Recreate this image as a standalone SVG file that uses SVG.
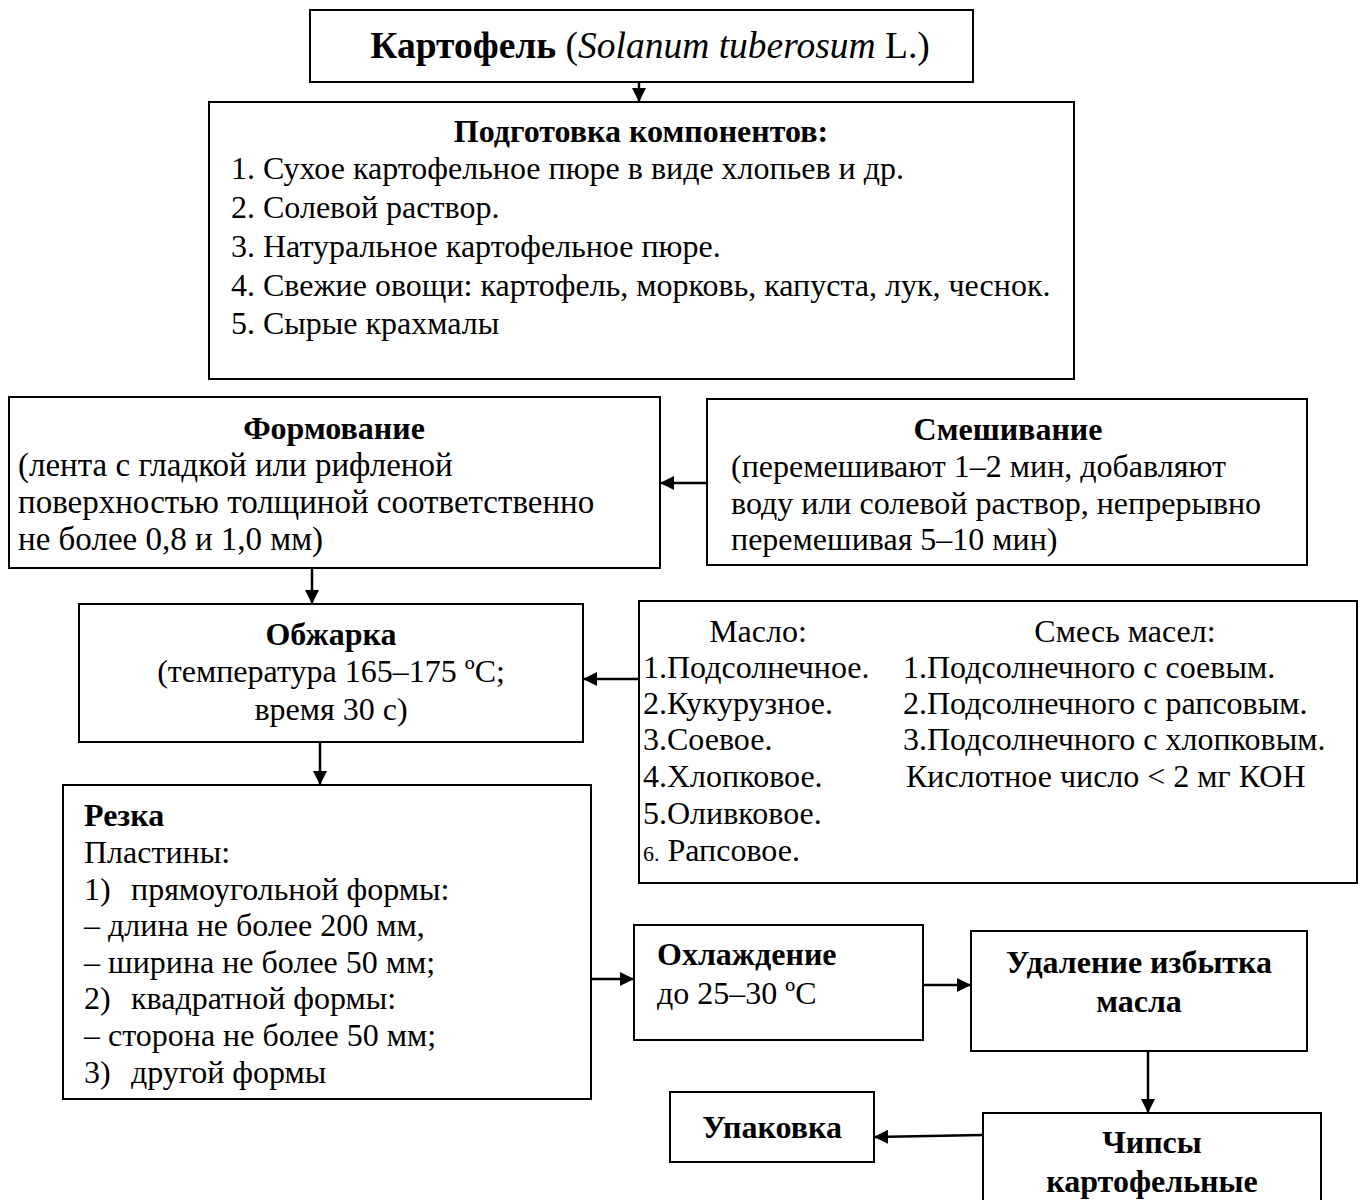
<svg xmlns="http://www.w3.org/2000/svg" width="1360" height="1200" viewBox="0 0 1360 1200">
<defs>
<marker id="ah" viewBox="0 0 14 14" refX="14" refY="7" markerWidth="14" markerHeight="14" markerUnits="userSpaceOnUse" orient="auto">
<path d="M0,0 L14,7 L0,14 Z" fill="#000"/>
</marker>
</defs>
<style>
rect{fill:#fff;stroke:#000;stroke-width:2}
text{font-family:"Liberation Serif","Times New Roman",serif;font-size:32px;fill:#000}
.b{font-weight:bold}
.c{text-anchor:middle}
.i{font-style:italic}
.f{font-size:33px}
#connectors line{stroke:#000;stroke-width:2.5;marker-end:url(#ah)}
</style>
<rect x="0" y="0" width="1360" height="1200" style="fill:#fff;stroke:none"/>
<g id="n-title">
<rect x="310" y="10" width="663" height="72"/>
<text x="650" y="58" class="c" style="font-size:37.5px"><tspan class="b">Картофель</tspan> (<tspan class="i">Solanum tuberosum</tspan> L.)</text>
</g>
<g id="n-prep">
<rect x="209" y="102" width="865" height="277"/>
<text x="641" y="142" class="c b">Подготовка компонентов:</text>
<text x="231" y="179">1. Сухое картофельное пюре в виде хлопьев и др.</text>
<text x="231" y="218">2. Солевой раствор.</text>
<text x="231" y="257">3. Натуральное картофельное пюре.</text>
<text x="231" y="296">4. Свежие овощи: картофель, морковь, капуста, лук, чеснок.</text>
<text x="231" y="334">5. Сырые крахмалы</text>
</g>
<g id="n-form">
<rect x="9" y="397" width="651" height="171"/>
<text x="334" y="439" class="c b">Формование</text>
<text x="18" y="476" class="f">(лента с гладкой или рифленой</text>
<text x="18" y="513" class="f">поверхностью толщиной соответственно</text>
<text x="18" y="550" class="f">не более 0,8 и 1,0 мм)</text>
</g>
<g id="n-mix">
<rect x="707" y="399" width="600" height="166"/>
<text x="1008" y="440" class="c b">Смешивание</text>
<text x="731" y="477">(перемешивают 1–2 мин, добавляют</text>
<text x="731" y="514">воду или солевой раствор, непрерывно</text>
<text x="731" y="550">перемешивая 5–10 мин)</text>
</g>
<g id="n-fry">
<rect x="79" y="604" width="504" height="138"/>
<text x="331" y="645" class="c b">Обжарка</text>
<text x="331" y="682" class="c">(температура 165–175 ºC;</text>
<text x="331" y="720" class="c">время 30 с)</text>
</g>
<g id="n-oil">
<rect x="639" y="601" width="718" height="282"/>
<text x="758" y="642" class="c">Масло:</text>
<text x="1125" y="642" class="c">Смесь масел:</text>
<text x="643" y="678">1.Подсолнечное.</text>
<text x="643" y="714">2.Кукурузное.</text>
<text x="643" y="750">3.Соевое.</text>
<text x="643" y="787">4.Хлопковое.</text>
<text x="643" y="824">5.Оливковое.</text>
<text x="643" y="861"><tspan style="font-size:22px">6.</tspan> Рапсовое.</text>
<text x="903" y="678">1.Подсолнечного с соевым.</text>
<text x="903" y="714">2.Подсолнечного с рапсовым.</text>
<text x="903" y="750">3.Подсолнечного с хлопковым.</text>
<text x="906" y="787">Кислотное число &lt; 2 мг КОН</text>
</g>
<g id="n-cut">
<rect x="63" y="785" width="528" height="314"/>
<text x="84" y="826" class="b">Резка</text>
<text x="84" y="863">Пластины:</text>
<text x="84" y="900">1)<tspan x="131">прямоугольной формы:</tspan></text>
<text x="84" y="936">– длина не более 200 мм,</text>
<text x="84" y="973">– ширина не более 50 мм;</text>
<text x="84" y="1009">2)<tspan x="131">квадратной формы:</tspan></text>
<text x="84" y="1046">– сторона не более 50 мм;</text>
<text x="84" y="1083">3)<tspan x="131">другой формы</tspan></text>
</g>
<g id="n-cool">
<rect x="634" y="925" width="289" height="115"/>
<text x="657" y="965" class="b">Охлаждение</text>
<text x="657" y="1004">до 25–30 ºC</text>
</g>
<g id="n-oilrem">
<rect x="971" y="931" width="336" height="120"/>
<text x="1139" y="973" class="c b">Удаление избытка</text>
<text x="1139" y="1012" class="c b">масла</text>
</g>
<g id="n-chips">
<rect x="983" y="1113" width="338" height="100"/>
<text x="1152" y="1153" class="c b">Чипсы</text>
<text x="1152" y="1192" class="c b">картофельные</text>
</g>
<g id="n-pack">
<rect x="670" y="1092" width="204" height="70"/>
<text x="772" y="1138" class="c b">Упаковка</text>
</g>
<g id="connectors">
<line x1="639" y1="82" x2="639" y2="102"/>
<line x1="707" y1="483" x2="660" y2="483"/>
<line x1="312" y1="568" x2="312" y2="604"/>
<line x1="639" y1="679" x2="583" y2="679"/>
<line x1="320" y1="742" x2="320" y2="785"/>
<line x1="591" y1="979" x2="634" y2="979"/>
<line x1="923" y1="985" x2="971" y2="985"/>
<line x1="1148" y1="1051" x2="1148" y2="1113"/>
<line x1="983" y1="1135" x2="874" y2="1137"/>
</g>
</svg>
